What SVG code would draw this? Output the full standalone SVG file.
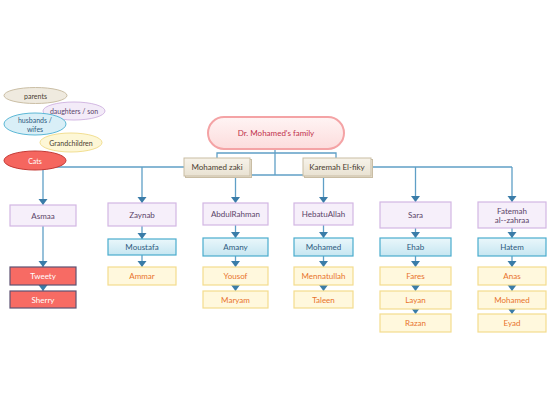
<svg xmlns="http://www.w3.org/2000/svg" width="550" height="410" viewBox="0 0 550 410">
<defs>
<marker id="arr" markerUnits="userSpaceOnUse" markerWidth="8" markerHeight="10" refX="6" refY="4.5" orient="auto">
<path d="M0,0 L6,4.5 L0,9 Z" fill="#3a7ca8"/>
</marker>
<linearGradient id="gBlue" x1="0" y1="0" x2="0" y2="1">
<stop offset="0" stop-color="#eaf7fb"/><stop offset="1" stop-color="#c6e6f1"/>
</linearGradient>
<linearGradient id="gRoot" x1="0" y1="0" x2="0" y2="1">
<stop offset="0" stop-color="#fff4f4"/><stop offset="1" stop-color="#fcdcdc"/>
</linearGradient>
<linearGradient id="gBeige" x1="0" y1="0" x2="0" y2="1">
<stop offset="0" stop-color="#f7f3ea"/><stop offset="1" stop-color="#e9e2d2"/>
</linearGradient>
</defs>
<style>
text{font-family:Lato,"Open Sans","Liberation Sans",sans-serif;font-size:8px;text-anchor:middle;dominant-baseline:central}
.c line,.c polyline{stroke:#5f9fc6;stroke-width:1.3;fill:none}
.a{marker-end:url(#arr)}
.p rect{fill:#f6effa;stroke:#d3b6e3;stroke-width:1.2}
.p text{fill:#5a4468}
.b rect{fill:url(#gBlue);stroke:#4aaccd;stroke-width:1.2}
.b text{fill:#2e5a7e}
.y rect{fill:#fff8dd;stroke:#f4dc8e;stroke-width:1.2}
.y text{fill:#e8732c}
.r rect{fill:#f76b64;stroke:#5e5272;stroke-width:1.2}
.r text{fill:#ffffff}
.g rect{fill:url(#gBeige);stroke:#c9bda4;stroke-width:1}
.g text{fill:#4a4032}
</style>

<g id="connectors" class="c">
<line x1="275" y1="149" x2="275" y2="175"/>
<polyline points="217,158 217,153 336,153 336,158"/>
<polyline points="235.5,175 324,175"/>
<line class="a" x1="235.5" y1="175" x2="235.5" y2="203"/>
<line class="a" x1="323.5" y1="175" x2="323.5" y2="203"/>
<polyline points="184,167 43,167"/>
<line class="a" x1="43" y1="167" x2="43" y2="205"/>
<line class="a" x1="142" y1="167" x2="142" y2="203"/>
<polyline points="371,167 512,167"/>
<line class="a" x1="415.5" y1="167" x2="415.5" y2="202"/>
<line class="a" x1="512" y1="167" x2="512" y2="202"/>
<line class="a" x1="43" y1="226" x2="43" y2="267"/>
<line class="a" x1="43" y1="285" x2="43" y2="291"/>
<line class="a" x1="142" y1="226" x2="142" y2="239"/>
<line class="a" x1="142" y1="255" x2="142" y2="267"/>
<line class="a" x1="235.5" y1="225" x2="235.5" y2="238"/>
<line class="a" x1="235.5" y1="256" x2="235.5" y2="267"/>
<line class="a" x1="235.5" y1="285" x2="235.5" y2="291"/>
<line class="a" x1="323.5" y1="225" x2="323.5" y2="238"/>
<line class="a" x1="323.5" y1="256" x2="323.5" y2="267"/>
<line class="a" x1="323.5" y1="285" x2="323.5" y2="291"/>
<line class="a" x1="415.5" y1="228" x2="415.5" y2="238"/>
<line class="a" x1="415.5" y1="256" x2="415.5" y2="267"/>
<line class="a" x1="415.5" y1="285" x2="415.5" y2="291"/>
<line class="a" x1="415.5" y1="309" x2="415.5" y2="314"/>
<line class="a" x1="512" y1="228" x2="512" y2="238"/>
<line class="a" x1="512" y1="256" x2="512" y2="267"/>
<line class="a" x1="512" y1="285" x2="512" y2="291"/>
<line class="a" x1="512" y1="309" x2="512" y2="314"/>
</g>

<g id="legend">
<ellipse cx="35.5" cy="95.5" rx="31.5" ry="8" fill="#efeadf" stroke="#cbbfa6" stroke-width="1"/>
<text x="35.5" y="95.5" fill="#4a4032" style="font-size:7px">parents</text>
<ellipse cx="74" cy="111" rx="31" ry="9" fill="#f3ebf8" stroke="#d3b8e3" stroke-width="1"/>
<text x="74" y="111" fill="#5a4468" style="font-size:7px">daughters / son</text>
<ellipse cx="35" cy="124" rx="31" ry="11" fill="#d9eff7" stroke="#5cb8d6" stroke-width="1"/>
<text x="35" y="119.5" fill="#2e5a7e" style="font-size:7px">husbands /</text>
<text x="35" y="128.5" fill="#2e5a7e" style="font-size:7px">wifes</text>
<ellipse cx="71" cy="142.5" rx="31" ry="9.5" fill="#fdf7d6" stroke="#f2df92" stroke-width="1"/>
<text x="71" y="142.5" fill="#4a4032" style="font-size:7px">Grandchildren</text>
<ellipse cx="35" cy="160.5" rx="31" ry="9.5" fill="#f5665f" stroke="#c43a36" stroke-width="1"/>
<text x="35" y="160.5" fill="#ffffff" style="font-size:7px">Cats</text>
</g>

<g id="root">
<rect x="208" y="117" width="136" height="32" rx="16" fill="url(#gRoot)" stroke="#f4a3a5" stroke-width="2"/>
<text x="276" y="133" fill="#c0304a">Dr. Mohamed's family</text>
</g>
<g id="mohamed-zaki" class="g">
<rect x="185.5" y="159.5" width="66" height="18" fill="#d8d2c4" stroke="none"/>
<rect x="184" y="158" width="66" height="18"/>
<text x="217" y="167">Mohamed zaki</text>
</g>
<g id="karemah" class="g">
<rect x="304.5" y="159.5" width="68" height="18" fill="#d8d2c4" stroke="none"/>
<rect x="303" y="158" width="68" height="18"/>
<text x="337" y="167">Karemah El-fiky</text>
</g>

<g id="asmaa" class="p"><rect x="10" y="205" width="66" height="21"/><text x="43" y="215.5">Asmaa</text></g>
<g id="zaynab" class="p"><rect x="108" y="203" width="68" height="23"/><text x="142" y="214.5">Zaynab</text></g>
<g id="abdulrahman" class="p"><rect x="203" y="203" width="65" height="22"/><text x="235.5" y="214">AbdulRahman</text></g>
<g id="hebatuallah" class="p"><rect x="294" y="203" width="59" height="22"/><text x="323.5" y="214">HebatuAllah</text></g>
<g id="sara" class="p"><rect x="380" y="202" width="71" height="26"/><text x="415.5" y="215">Sara</text></g>
<g id="fatemah" class="p"><rect x="478" y="202" width="68" height="26"/><text x="512" y="210.5">Fatemah</text><text x="512" y="220">al--zahraa</text></g>

<g id="tweety" class="r"><rect x="10" y="267" width="66" height="18"/><text x="43" y="276">Tweety</text></g>
<g id="sherry" class="r"><rect x="10" y="291" width="66" height="17"/><text x="43" y="299.5">Sherry</text></g>

<g id="moustafa" class="b"><rect x="108" y="239" width="68" height="16"/><text x="142" y="247">Moustafa</text></g>
<g id="amany" class="b"><rect x="203" y="238" width="65" height="18"/><text x="235.5" y="247">Amany</text></g>
<g id="mohamed" class="b"><rect x="294" y="238" width="59" height="18"/><text x="323.5" y="247">Mohamed</text></g>
<g id="ehab" class="b"><rect x="380" y="238" width="71" height="18"/><text x="415.5" y="247">Ehab</text></g>
<g id="hatem" class="b"><rect x="478" y="238" width="68" height="18"/><text x="512" y="247">Hatem</text></g>

<g id="ammar" class="y"><rect x="108" y="267" width="68" height="18"/><text x="142" y="276">Ammar</text></g>
<g id="yousof" class="y"><rect x="203" y="267" width="65" height="18"/><text x="235.5" y="276">Yousof</text></g>
<g id="maryam" class="y"><rect x="203" y="291" width="65" height="17"/><text x="235.5" y="299.5">Maryam</text></g>
<g id="mennatullah" class="y"><rect x="294" y="267" width="59" height="18"/><text x="323.5" y="276">Mennatullah</text></g>
<g id="taleen" class="y"><rect x="294" y="291" width="59" height="17"/><text x="323.5" y="299.5">Taleen</text></g>
<g id="fares" class="y"><rect x="380" y="267" width="71" height="18"/><text x="415.5" y="276">Fares</text></g>
<g id="layan" class="y"><rect x="380" y="291" width="71" height="18"/><text x="415.5" y="300">Layan</text></g>
<g id="razan" class="y"><rect x="380" y="314" width="71" height="18"/><text x="415.5" y="323">Razan</text></g>
<g id="anas" class="y"><rect x="478" y="267" width="68" height="18"/><text x="512" y="276">Anas</text></g>
<g id="mohamed2" class="y"><rect x="478" y="291" width="68" height="18"/><text x="512" y="300">Mohamed</text></g>
<g id="eyad" class="y"><rect x="478" y="314" width="68" height="18"/><text x="512" y="323">Eyad</text></g>
</svg>
